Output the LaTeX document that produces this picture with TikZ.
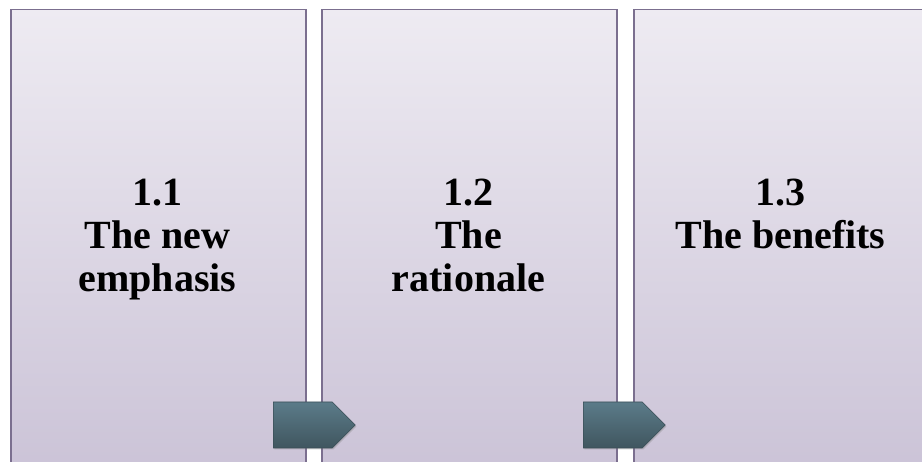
\documentclass[tikz,border=0pt]{standalone}
\usepackage{fontspec}
\setmainfont{Liberation Serif}
\usetikzlibrary{shapes.symbols,shadows,backgrounds}
\definecolor{pborder}{HTML}{7B6F8F}
\definecolor{ptop}{HTML}{EEEBF2}
\definecolor{pbot}{HTML}{CBC3D7}
\definecolor{atop}{HTML}{5B7B89}
\definecolor{abot}{HTML}{40565F}
\definecolor{aedge}{HTML}{3A4E57}
\tikzset{
  panel/.style={rectangle, draw=pborder, line width=1.5pt, top color=ptop, bottom color=pbot,
    inner sep=0pt, anchor=north west, minimum width=295pt, minimum height=462pt},
  paneltext/.style={font=\bfseries\fontsize{40}{43}\selectfont, align=center, anchor=north, inner sep=0pt},
  chevron/.style={signal, signal to=east, signal from=nowhere, signal pointer angle=90,
    minimum width=82pt, minimum height=46pt, inner sep=0pt, draw=aedge, line width=0.6pt,
    top color=atop, bottom color=abot,
    drop shadow={opacity=0.35, shadow xshift=1pt, shadow yshift=-1.5pt}},
}
\begin{document}
\begin{tikzpicture}[x=1pt,y=-1pt]
\useasboundingbox (0,0) rectangle (922,462);
\fill[white] (0,0) rectangle (922,462);
\clip (0,0) rectangle (922,462);
\node[panel] (p1) at (10,9) {};
\node[panel] (p2) at (321,9) {};
\node[panel] (p3) at (633,9) {};
\begin{scope}[on background layer]
  \foreach \p in {p1,p2,p3}{
    \foreach \k in {1,2,3,4,5}{
      \fill[black, opacity=0.035] ([xshift=-\k pt, yshift=\k pt]\p.north west) rectangle ([xshift=\k pt, yshift=-\k pt]\p.south east);
    }
  }
\end{scope}
\node[paneltext] (t1) at (157.5,179) {1.1\\The new\\emphasis};
\node[paneltext] (t2) at (468.5,179) {1.2\\The\\rationale};
\node[paneltext] (t3) at (780.5,179) {1.3\\The benefits};
\node[chevron, anchor=west] (a1) at (273,425) {};
\node[chevron, anchor=west] (a2) at (583,425) {};
\end{tikzpicture}
\end{document}
